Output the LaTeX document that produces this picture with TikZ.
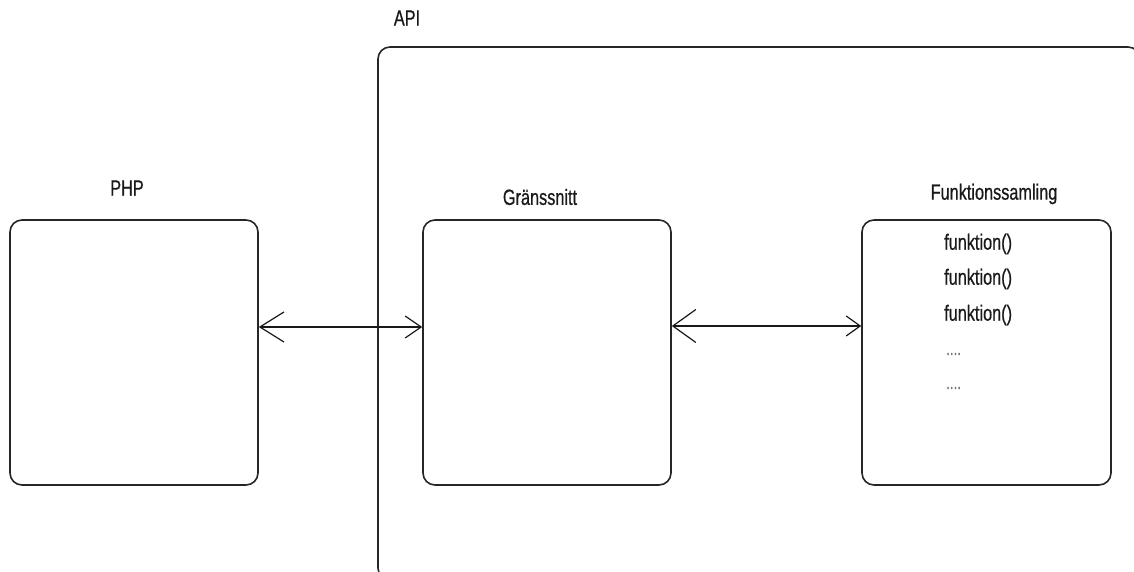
\documentclass[tikz,border=0pt]{standalone}
\usepackage{fontspec}
\setmainfont{Liberation Sans}[FakeStretch=0.74,FakeBold=0.6]
\usetikzlibrary{arrows.meta}
\begin{document}
\begin{tikzpicture}[x=1pt,y=1pt,
  box/.style={draw=black!85, line width=1.6pt, rounded corners=12pt, minimum width=248pt, minimum height=265pt, inner sep=0pt},
  lbl/.style={font=\fontsize{22}{26}\selectfont, text=black!90, inner sep=0pt},
  item/.style={font=\fontsize{22}{26}\selectfont, text=black!90, inner sep=0pt, anchor=west},
  dots/.style={font=\fontsize{18}{22}\selectfont, text=black!55, inner sep=0pt, anchor=west},
  conn/.style={line width=1.4pt, draw=black!90}
]
\useasboundingbox (0,0) rectangle (1134,572);
\node[box, minimum width=762pt, minimum height=533pt] (api) at (759,258.5) {};
\node[lbl] (apilbl) at (407,554) {API};
\node[box] (php) at (134,219.5) {};
\node[lbl] (phplbl) at (127,384) {PHP};
\node[box] (gr) at (547,219.5) {};
\node[lbl] (grlbl) at (540,375) {Gränssnitt};
\node[box, minimum width=249pt] (fs) at (986.5,219.5) {};
\node[lbl] (fslbl) at (994,378) {Funktionssamling};
\node[item] (f1) at (944,328) {funktion()};
\node[item] (f2) at (944,293) {funktion()};
\node[item] (f3) at (944,257) {funktion()};
\node[dots] (d1) at (946,218) {....};
\node[dots] (d2) at (946,184) {....};
\draw[conn, {Straight Barb[length=24pt,width=30pt,line width=1.2pt]}-{Straight Barb[length=16pt,width=22pt,line width=1.2pt]}]
  ([yshift=25.5pt]php.east) -- ([yshift=25.5pt]gr.west);
\draw[conn, {Straight Barb[length=23pt,width=33pt,line width=1.2pt]}-{Straight Barb[length=14pt,width=20pt,line width=1.2pt]}]
  ([yshift=26.5pt]gr.east) -- ([yshift=26.5pt]fs.west);
\end{tikzpicture}
\end{document}
